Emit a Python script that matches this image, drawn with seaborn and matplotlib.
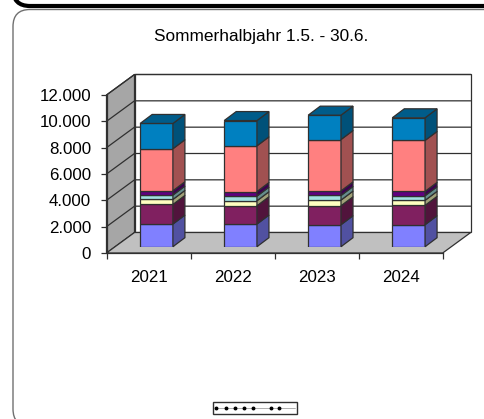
import matplotlib.pyplot as plt
import pandas as pd
import seaborn as sns
from matplotlib.colors import to_rgb
from matplotlib.lines import Line2D
from matplotlib.patches import FancyBboxPatch, Polygon
from matplotlib.transforms import IdentityTransform

years = ["2021", "2022", "2023", "2024"]
serie_1 = [1720, 1720, 1670, 1670]
serie_2 = [1490, 1390, 1440, 1470]
serie_3 = [380, 380, 430, 380]
serie_4 = [330, 350, 350, 350]
serie_5 = [330, 350, 350, 330]
serie_6 = [3190, 3470, 3900, 3870]
serie_7 = [1920, 1920, 1850, 1720]
colors = ["#8080FF", "#802060", "#FFFFC0", "#A0E0E0", "#600080", "#FF8080", "#0080C0"]
y_ticks = [0, 2000, 4000, 6000, 8000, 10000, 12000]
y_labels = ["0", "2.000", "4.000", "6.000", "8.000", "10.000", "12.000"]
title = "Sommerhalbjahr 1.5. - 30.6."

W, H = 484, 419
LINE = "#303030"
DEPTH = (28, 20.5)      # wall depth in pixels
BAR_SHIFT = (8, 6.3)    # bars stand a bit behind the front edge
BAR_DEPTH = (12, 9)


def add_poly(ax, pts, face, edge=LINE, lw=0.9, z=1):
    ax.add_patch(Polygon(pts, closed=True, facecolor=face, edgecolor=edge, lw=lw,
                         transform=IdentityTransform(), clip_on=False, zorder=z))


def shade(color, f=0.63):
    return tuple(c * f for c in to_rgb(color))


def draw_frame(fig):
    # outer rounded boxes of the slide, they run off the picture
    bg = fig.add_axes([0, 0, 1, 1], zorder=0)
    bg.set_xlim(0, W)
    bg.set_ylim(H, 0)
    bg.axis("off")
    bg.add_patch(FancyBboxPatch((13, 9.5), 600, 416.5, boxstyle="round,pad=0,rounding_size=17",
                                fc="white", ec="#707070", lw=1.0))
    bg.add_patch(FancyBboxPatch((13, -40), 600, 46, boxstyle="round,pad=0,rounding_size=17",
                                fc="white", ec="black", lw=3.0))
    # small legend box, the entries are too tiny to read
    bg.add_patch(plt.Rectangle((213, 402), 84, 12, fc="white", ec="#303030", lw=1.0))
    bg.add_line(Line2D([216, 295], [408, 408], color="#909090", lw=0.5))
    bg.plot([216, 226, 235, 244, 253, 271, 279], [408] * 7, ls="", marker="o", ms=1.8, color="black")


def draw_walls(ax):
    dx, dy = DEPTH
    (x0, y0) = ax.transData.transform((0, 0))
    (x1, y1) = ax.transData.transform((4, 12000))
    add_poly(ax, [(x0 + dx, y0 + dy), (x1 + dx, y0 + dy), (x1 + dx, y1 + dy), (x0 + dx, y1 + dy)], "white", z=0.5)
    add_poly(ax, [(x0, y0), (x0 + dx, y0 + dy), (x0 + dx, y1 + dy), (x0, y1)], "#A6A6A6", z=0.6)
    add_poly(ax, [(x0, y0), (x1, y0), (x1 + dx, y0 + dy), (x0 + dx, y0 + dy)], "#C0C0C0", z=0.6)
    for v in y_ticks[1:]:
        _, y = ax.transData.transform((0, v))
        ax.add_line(Line2D([x0, x0 + dx, x1 + dx], [y, y + dy, y + dy], color=LINE, lw=0.9,
                           transform=IdentityTransform(), clip_on=False, zorder=0.7))


def draw_bars(fig, ax, df):
    # second axes, same scales as the front plane, just moved back
    pos = ax.get_position()
    bar_ax = fig.add_axes([pos.x0 + BAR_SHIFT[0] / W, pos.y0 + BAR_SHIFT[1] / H, pos.width, pos.height], zorder=3)
    bar_ax.patch.set_alpha(0)
    bottom = [0.0] * len(years)
    series = [c for c in df.columns if c != "year"]
    rows = []
    for name, color in zip(series, colors):
        sns.barplot(data=df, x="year", y=name, bottom=bottom, color=color, saturation=1, width=0.39,
                    edgecolor=LINE, linewidth=0.9, ax=bar_ax, errorbar=None)
        rows.append((color, list(bar_ax.containers[-1])))
        bottom = [b + v for b, v in zip(bottom, df[name])]
    bar_ax.set_xlim(-0.5, 3.5)
    bar_ax.set_ylim(0, 12000)
    bar_ax.axis("off")
    fig.canvas.draw()

    dx, dy = BAR_DEPTH
    for color, bars in rows:
        for bar in bars:
            x, y = bar.get_x(), bar.get_y()
            (xa, ya) = bar_ax.transData.transform((x, y))
            (xb, yb) = bar_ax.transData.transform((x + bar.get_width(), y + bar.get_height()))
            add_poly(bar_ax, [(xb, ya), (xb + dx, ya + dy), (xb + dx, yb + dy), (xb, yb)], shade(color), z=2)
    color, bars = rows[-1]
    for bar in bars:
        (xa, yb) = bar_ax.transData.transform((bar.get_x(), bar.get_y() + bar.get_height()))
        (xb, _) = bar_ax.transData.transform((bar.get_x() + bar.get_width(), 0))
        add_poly(bar_ax, [(xa, yb), (xb, yb), (xb + dx, yb + dy), (xa + dx, yb + dy)], shade(color, 0.72), z=2)


def create_chart(df):
    sns.set_theme(style="white")
    plt.rcParams["font.family"] = ["Liberation Sans", "DejaVu Sans"]
    fig = plt.figure(figsize=(W / 100, H / 100), dpi=100)
    draw_frame(fig)

    ax = fig.add_axes([106.5 / W, (H - 253) / H, 336.2 / W, 158 / H], zorder=1)
    ax.patch.set_alpha(0)
    ax.set_xlim(0, 4)
    ax.set_ylim(0, 12000)
    sns.despine(ax=ax, top=True, right=True)
    for side in ("left", "bottom"):
        ax.spines[side].set_color(LINE)
        ax.spines[side].set_linewidth(0.9)
        ax.spines[side].set_zorder(0.8)
    ax.set_yticks(y_ticks, y_labels, fontsize=12.2, color="black")
    ax.set_xticks(range(5), [""] * 5)
    ax.set_xticks([0.5, 1.5, 2.5, 3.5], years, minor=True, fontsize=12.2, color="black")
    ax.tick_params(axis="both", which="major", length=4, width=0.9, color=LINE, left=True, bottom=True)
    ax.tick_params(axis="y", which="major", pad=7)
    ax.tick_params(axis="x", which="minor", length=0, pad=12)
    fig.canvas.draw()
    draw_walls(ax)
    draw_bars(fig, ax, df)

    fig.text(261.5 / W, (H - 37) / H, title, ha="center", va="center", fontsize=12.4, color="black")
    fig.savefig("out.png", dpi=100)


if __name__ == "__main__":
    data = pd.DataFrame({
        "year": years,
        "s1": serie_1,
        "s2": serie_2,
        "s3": serie_3,
        "s4": serie_4,
        "s5": serie_5,
        "s6": serie_6,
        "s7": serie_7,
    })
    create_chart(data)
